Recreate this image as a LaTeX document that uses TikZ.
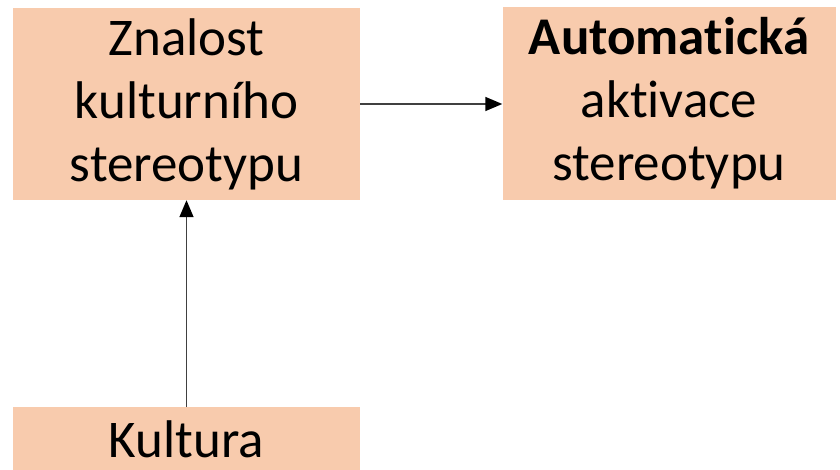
\documentclass[tikz,border=0pt]{standalone}
\usepackage{fontspec}
\setmainfont[Ligatures={NoCommon}]{Carlito}
\usetikzlibrary{arrows.meta}
\definecolor{peach}{HTML}{F8CBAD}
\definecolor{linegray}{HTML}{404040}
\begin{document}
\begin{tikzpicture}[x=1pt,y=-1pt,
  box/.style={fill=peach,draw=none,align=center,inner sep=0pt,
    font=\fontsize{53}{63}\selectfont},
  conn/.style={draw=linegray,line width=1.5pt,-{Triangle[length=17pt,width=14pt,fill=black,color=black]}}]
\useasboundingbox (0,0) rectangle (840,470);
\node[box,minimum width=347pt,minimum height=192pt] (zn) at (186.5,104) {Znalost\\kulturního\\stereotypu};
\node[box,minimum width=333pt,minimum height=193pt] (au) at (669,103.5) {\textbf{Automatická}\\aktivace\\stereotypu};
\fill[peach] (13,407) rectangle (360,470);
\coordinate (ku) at (186.5,407);
\node[font=\fontsize{53}{63}\selectfont,anchor=base,inner sep=0pt] (kut) at (186.5,457) {Kultura};
\draw[conn] (zn.east |- 0,104) -- (au.west |- 0,104);
\draw[conn] (ku) -- (zn.south -| ku);
\end{tikzpicture}
\end{document}
